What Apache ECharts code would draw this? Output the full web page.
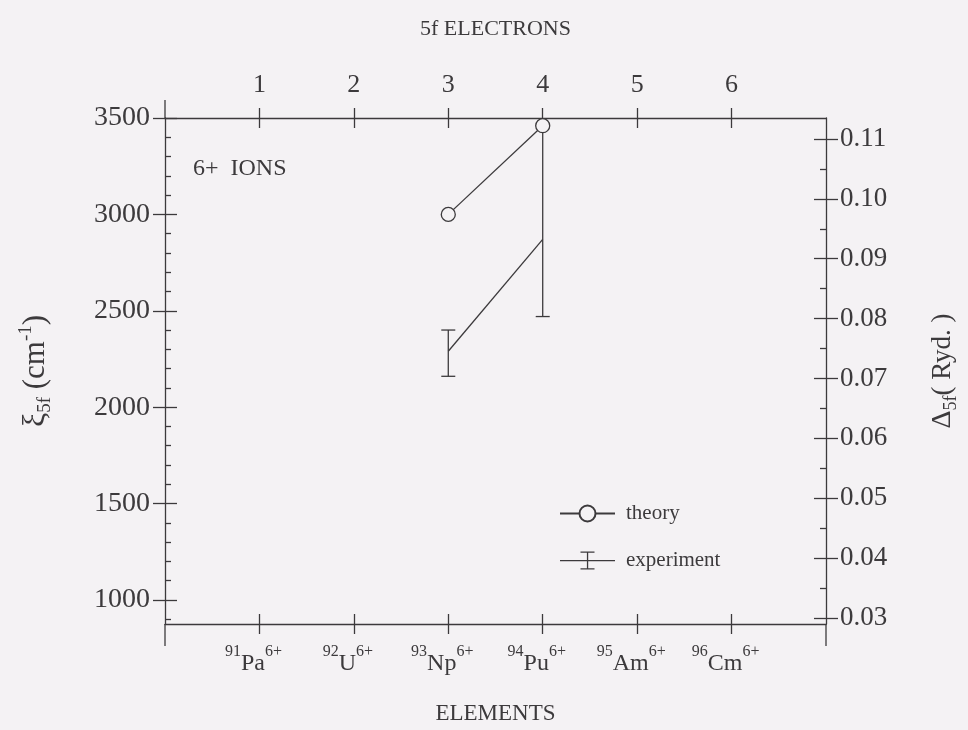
<!DOCTYPE html>
<html>
<head>
<meta charset="utf-8">
<script src="https://cdn.jsdelivr.net/npm/echarts@6/dist/echarts.min.js"></script>
<style>
  html, body { margin: 0; padding: 0; background: #f4f2f4; }
  #chart { width: 968px; height: 730px; }
</style>
</head>
<body>
<div id="chart"></div>
<script>
// ---- data ----
const electrons = [1, 2, 3, 4, 5, 6];                       // 5f electron count (top axis)
const elementSymbols = ['Pa', 'U', 'Np', 'Pu', 'Am', 'Cm']; // bottom axis elements
const atomicNumbers = [91, 92, 93, 94, 95, 96];
const ionCharge = '6+';
const xiTicks = [1000, 1500, 2000, 2500, 3000, 3500];                      // left axis, cm^-1
const deltaTicks = [0.03, 0.04, 0.05, 0.06, 0.07, 0.08, 0.09, 0.10, 0.11]; // right axis, Ryd

const theoryN = [3, 4];
const theoryXi = [3000, 3460];

const expN = [3, 4];
const expXi = [2290, 2870];
const expLow = [2160, 2470];
const expHigh = [2400, 3460];

// ---- axis ranges ----
const xiMin = 875, xiMax = 3500;
const deltaMin = 0.029, deltaMax = 0.1135;

const INK = '#3c3a3c';
const BG = '#f4f2f4';
const FONT = '"Liberation Serif", "DejaVu Serif", serif';

const xiMinor = [];
for (let v = 900; v < xiMax; v += 100) if (v % 500 !== 0) xiMinor.push(v);
const deltaMinor = deltaTicks.slice(0, -1).map(v => +(v + 0.005).toFixed(3));

const lineStyle = { color: INK, width: 1.3 };

// one axis layer: ticks either inward or outward (two layers give crossing ticks)
function tickAxis(base, values, inside, len, showLine) {
  return Object.assign({
    type: 'value',
    axisLine: { show: !!showLine, onZero: false, lineStyle },
    axisTick: { show: true, inside, length: len, customValues: values, lineStyle },
    axisLabel: { show: false },
    splitLine: { show: false }
  }, base);
}

const chart = echarts.init(document.getElementById('chart'));

const option = {
  backgroundColor: BG,
  animation: false,
  textStyle: { fontFamily: FONT, color: INK },
  grid: { left: 165, right: 140, top: 118, bottom: 100 },
  xAxis: [
    // bottom: elements
    tickAxis({ position: 'bottom', min: 0, max: 7,
      name: 'ELEMENTS', nameLocation: 'middle', nameGap: 78,
      nameTextStyle: { fontFamily: FONT, fontSize: 23, color: INK },
      axisLabel: {
        show: true, customValues: electrons, margin: 20,
        formatter: v => {
          const i = electrons.indexOf(v);
          return '{sup|' + atomicNumbers[i] + '}{el|' + elementSymbols[i] + '}{supEnd|' + ionCharge + '}';
        },
        rich: {
          sup: { fontFamily: FONT, fontSize: 16, color: INK, verticalAlign: 'top', lineHeight: 32 },
          supEnd: { fontFamily: FONT, fontSize: 16, color: INK, verticalAlign: 'top', lineHeight: 32,
                    padding: [0, 12, 0, 0] },
          el: { fontFamily: FONT, fontSize: 24, color: INK, verticalAlign: 'bottom', lineHeight: 32 }
        }
      }
    }, electrons, false, 10, true),
    tickAxis({ position: 'bottom', min: 0, max: 7 }, electrons, true, 10, false),
    // top: 5f electrons
    tickAxis({ position: 'top', min: 0, max: 7,
      name: '5f ELECTRONS', nameLocation: 'middle', nameGap: 78,
      nameTextStyle: { fontFamily: FONT, fontSize: 22, color: INK },
      axisLabel: { show: true, customValues: electrons, margin: 20,
        fontFamily: FONT, fontSize: 26, color: INK }
    }, electrons, false, 10, true),
    tickAxis({ position: 'top', min: 0, max: 7 }, electrons, true, 10, false)
  ],
  yAxis: [
    // left: xi_5f
    tickAxis({ position: 'left', min: xiMin, max: xiMax,
      name: '{g|ξ}{sub|5f} (cm{sup|-1})', nameLocation: 'middle', nameGap: 110, nameRotate: 90,
      nameTextStyle: {
        rich: {
          g: { fontFamily: FONT, fontSize: 32, color: INK, lineHeight: 38 },
          sub: { fontFamily: FONT, fontSize: 19, color: INK, verticalAlign: 'bottom', lineHeight: 38 },
          sup: { fontFamily: FONT, fontSize: 19, color: INK, verticalAlign: 'top', lineHeight: 38 }
        },
        fontFamily: FONT, fontSize: 31, color: INK
      },
      axisLabel: { show: true, customValues: xiTicks, margin: 15,
        formatter: v => String(v),
        fontFamily: FONT, fontSize: 28, color: INK }
    }, xiTicks, false, 12, true),
    tickAxis({ position: 'left', min: xiMin, max: xiMax }, xiTicks, true, 12, false),
    tickAxis({ position: 'left', min: xiMin, max: xiMax }, xiMinor, true, 6, false),
    // right: Delta_5f
    tickAxis({ position: 'right', min: deltaMin, max: deltaMax,
      name: '{g|Δ}{sub|5f}( Ryd. )', nameLocation: 'middle', nameGap: 100, nameRotate: 90,
      nameTextStyle: {
        rich: {
          g: { fontFamily: FONT, fontSize: 28, color: INK, lineHeight: 34 },
          sub: { fontFamily: FONT, fontSize: 18, color: INK, verticalAlign: 'bottom', lineHeight: 34 }
        },
        fontFamily: FONT, fontSize: 27, color: INK
      },
      axisLabel: { show: true, customValues: deltaTicks, margin: 14,
        formatter: v => v.toFixed(2),
        fontFamily: FONT, fontSize: 27, color: INK }
    }, deltaTicks, false, 12, true),
    tickAxis({ position: 'right', min: deltaMin, max: deltaMax }, deltaTicks, true, 12, false),
    tickAxis({ position: 'right', min: deltaMin, max: deltaMax }, deltaMinor, true, 6, false)
  ],
  legend: {
    left: 554, top: 498, orient: 'vertical', itemGap: 26,
    itemWidth: 55, itemHeight: 20,
    textStyle: { fontFamily: FONT, fontSize: 21, color: INK, padding: [0, 0, 0, 6] },
    data: [
      { name: 'theory' },
      { name: 'experiment',
        icon: 'path://M0,9.4h55v1.3h-55Z M26.9,1h1.3v18h-1.3Z M20.5,1h14v1.3h-14Z M20.5,17.7h14v1.3h-14Z',
        itemStyle: { color: INK } }
    ]
  },
  graphic: [
    { type: 'text', left: 193, top: 157,
      style: { text: '6+  IONS', fontFamily: FONT, fontSize: 24, fill: INK } }
  ],
  series: [
    {
      name: 'theory', type: 'line', xAxisIndex: 0, yAxisIndex: 0,
      data: theoryN.map((n, i) => [n, theoryXi[i]]),
      symbol: 'circle', symbolSize: 14, z: 5,
      itemStyle: { color: BG, borderColor: INK, borderWidth: 1.3 },
      lineStyle
    },
    {
      name: 'experiment', type: 'line', xAxisIndex: 0, yAxisIndex: 0,
      data: expN.map((n, i) => [n, expXi[i]]),
      symbol: 'none', lineStyle
    },
    {
      name: 'experiment', type: 'custom', xAxisIndex: 0, yAxisIndex: 0,
      data: expN.map((n, i) => [n, expLow[i], expHigh[i]]),
      renderItem: (params, api) => {
        const lo = api.coord([api.value(0), api.value(1)]);
        const hi = api.coord([api.value(0), api.value(2)]);
        const cap = 7;
        const st = { stroke: INK, lineWidth: 1.3, fill: null };
        return {
          type: 'group',
          children: [
            { type: 'line', shape: { x1: lo[0], y1: lo[1], x2: hi[0], y2: hi[1] }, style: st },
            { type: 'line', shape: { x1: lo[0] - cap, y1: lo[1], x2: lo[0] + cap, y2: lo[1] }, style: st },
            { type: 'line', shape: { x1: hi[0] - cap, y1: hi[1], x2: hi[0] + cap, y2: hi[1] }, style: st }
          ]
        };
      },
      z: 3
    }
  ]
};

chart.setOption(option);

// frame lines run a little past the plot corners
const tl = chart.convertToPixel({ xAxisIndex: 0, yAxisIndex: 0 }, [0, xiMax]);
const br = chart.convertToPixel({ xAxisIndex: 0, yAxisIndex: 0 }, [7, xiMin]);
const ext = { stroke: INK, lineWidth: 1.3 };
chart.setOption({
  graphic: [
    { id: 'leftUp', type: 'line', shape: { x1: tl[0], y1: tl[1] - 18, x2: tl[0], y2: tl[1] }, style: ext },
    { id: 'leftDown', type: 'line', shape: { x1: tl[0], y1: br[1], x2: tl[0], y2: br[1] + 22 }, style: ext },
    { id: 'rightDown', type: 'line', shape: { x1: br[0], y1: br[1], x2: br[0], y2: br[1] + 22 }, style: ext }
  ]
});
</script>
</body>
</html>
